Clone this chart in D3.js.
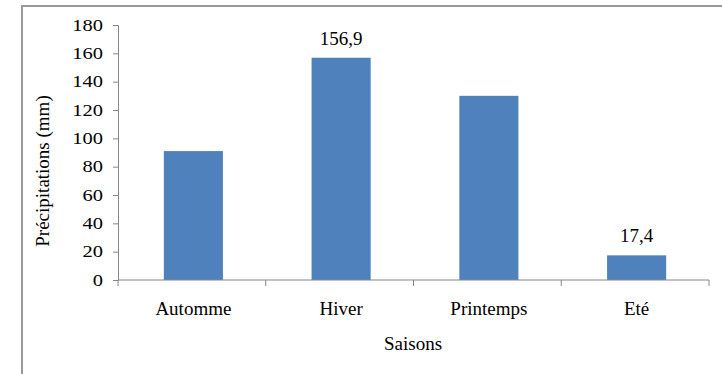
<!DOCTYPE html>
<html>
<head>
<meta charset="utf-8">
<script src="https://cdn.jsdelivr.net/npm/d3@7"></script>
<style>
  body { margin: 0; background: #fff; }
</style>
</head>
<body>
<div id="chart"></div>
<script>
// seasonal rainfall
const seasons = ['Automme', 'Hiver', 'Printemps', 'Eté'];
const rainfall = [91, 156.9, 130, 17.4];
const labelled = [false, true, false, true];
const yTicks = [0, 20, 40, 60, 80, 100, 120, 140, 160, 180];

const width = 722;
const height = 374;
const margin = { top: 25, right: 13, bottom: 94, left: 118 };
const fontSize = '19px';
const serif = '"Liberation Serif", "Times New Roman", Times, serif';

const svg = d3.select('#chart')
  .append('svg')
  .attr('width', width)
  .attr('height', height);

// outer frame (only left and top edges are visible)
svg.append('path')
  .attr('d', `M22,${height} V6 H${width}`)
  .attr('fill', 'none')
  .attr('stroke', '#999')
  .attr('stroke-width', 2);

const x = d3.scaleBand()
  .domain(seasons)
  .range([margin.left, width - margin.right])
  .paddingInner(0.6)
  .paddingOuter(0.3);

const y = d3.scaleLinear()
  .domain([0, 180])
  .range([height - margin.bottom, margin.top]);

const y0 = y(0);

// bars
svg.selectAll('rect.bar')
  .data(seasons)
  .enter()
  .append('rect')
  .attr('class', 'bar')
  .attr('x', d => x(d) + 1.5)
  .attr('width', x.bandwidth())
  .attr('y', (d, i) => y(rainfall[i]))
  .attr('height', (d, i) => y0 - y(rainfall[i]))
  .attr('fill', '#4f81bd');

// value labels
svg.selectAll('text.value')
  .data(seasons.filter((d, i) => labelled[i]))
  .enter()
  .append('text')
  .attr('class', 'value')
  .attr('x', d => x(d) + 1.5 + x.bandwidth() / 2)
  .attr('y', d => y(rainfall[seasons.indexOf(d)]) - 13)
  .attr('text-anchor', 'middle')
  .style('font-family', serif)
  .style('font-size', fontSize)
  .text(d => String(rainfall[seasons.indexOf(d)]).replace('.', ','));

// y axis (tick labels are squashed vertically in the original)
const yAxis = svg.append('g')
  .attr('transform', `translate(${margin.left},0)`)
  .call(d3.axisLeft(y).tickValues(yTicks).tickSize(5).tickPadding(0));
yAxis.selectAll('path, line').attr('stroke', '#868686');
yAxis.selectAll('text')
  .attr('x', 0)
  .attr('dy', '0.33em')
  .attr('transform', 'translate(-15,0) scale(1.28,1)')
  .style('font-family', serif)
  .style('font-size', '16px')
  .attr('fill', '#000');

// x axis with ticks at band boundaries
const xg = svg.append('g').attr('transform', `translate(0,${y0})`);
xg.append('line')
  .attr('x1', margin.left).attr('x2', width - margin.right)
  .attr('stroke', '#868686');
const bounds = d3.range(seasons.length + 1).map(i => margin.left + i * (width - margin.right - margin.left) / seasons.length);
xg.selectAll('line.tick')
  .data(bounds)
  .enter()
  .append('line')
  .attr('class', 'tick')
  .attr('x1', d => d).attr('x2', d => d)
  .attr('y1', 0).attr('y2', 6)
  .attr('stroke', '#868686');
xg.selectAll('text')
  .data(seasons)
  .enter()
  .append('text')
  .attr('x', d => x(d) + 1.5 + x.bandwidth() / 2)
  .attr('y', 35)
  .attr('text-anchor', 'middle')
  .style('font-family', serif)
  .style('font-size', fontSize)
  .text(d => d);

// axis titles
svg.append('text')
  .attr('x', 413)
  .attr('y', 350)
  .attr('text-anchor', 'middle')
  .style('font-family', serif)
  .style('font-size', fontSize)
  .text('Saisons');

svg.append('text')
  .attr('transform', 'translate(49,171) rotate(-90)')
  .attr('text-anchor', 'middle')
  .style('font-family', serif)
  .style('font-size', fontSize)
  .text('Précipitations (mm)');
</script>
</body>
</html>
